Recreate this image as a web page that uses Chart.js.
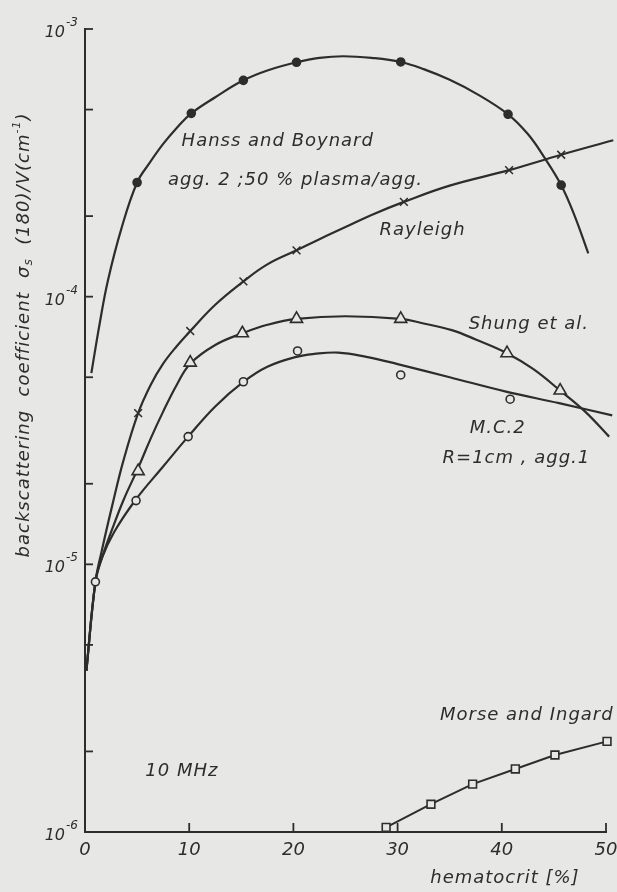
<!DOCTYPE html>
<html>
<head>
<meta charset="utf-8">
<script src="https://cdn.jsdelivr.net/npm/chart.js@4.4.1/dist/chart.umd.min.js"></script>
<style>
  html, body { margin: 0; padding: 0; background: #e7e7e5; }
  #wrap { width: 617px; height: 892px; }
</style>
</head>
<body>
<div id="wrap"><canvas id="chart" width="617" height="892"></canvas></div>
<script>
const INK   = '#2d2d2d';
const PAPER = '#e7e7e5';
const FONT  = '"DejaVu Sans", sans-serif';

// hematocrit [%] vs backscattering coefficient [cm^-1]
// measured points
const hanssX    = [5.0, 10.2, 15.2, 20.3, 30.3, 40.6, 45.7];
const hanssY    = [2.67e-4, 4.84e-4, 6.43e-4, 7.51e-4, 7.53e-4, 4.80e-4, 2.61e-4];
const rayX      = [5.1, 10.1, 15.2, 20.3, 30.6, 40.7, 45.7];
const rayY      = [3.67e-5, 7.44e-5, 1.14e-4, 1.49e-4, 2.26e-4, 2.97e-4, 3.39e-4];
const shungX    = [5.1, 10.1, 15.1, 20.3, 30.3, 40.5, 45.6];
const shungY    = [2.23e-5, 5.67e-5, 7.30e-5, 8.26e-5, 8.26e-5, 6.15e-5, 4.46e-5];
const mcX       = [1.0, 4.9, 9.9, 15.2, 20.4, 30.3, 40.8, 50.6];
const mcY       = [8.6e-6, 1.73e-5, 3.0e-5, 4.81e-5, 6.27e-5, 5.10e-5, 4.14e-5, 4.27e-5];
const morseX    = [28.9, 33.2, 37.2, 41.3, 45.1, 50.1];
const morseY    = [1.04e-6, 1.27e-6, 1.51e-6, 1.72e-6, 1.94e-6, 2.18e-6];

// drawn (fitted) curves
const hanssCurveX = [0.61, 1.41, 2.2, 3.5, 5.0, 6.2, 7.5, 8.8, 10.2, 12.5, 15.2, 17.5, 20.3, 22.5, 24.8,
                     27.5, 30.3, 32.5, 35.0, 37.5, 40.6, 42.5, 44.0, 45.7, 47.0, 48.3];
const hanssCurveY = [5.18e-5, 7.94e-5, 1.15e-4, 1.80e-4, 2.67e-4, 3.16e-4, 3.72e-4, 4.27e-4, 4.84e-4, 5.56e-4,
                     6.43e-4, 7.0e-4, 7.51e-4, 7.8e-4, 7.91e-4, 7.8e-4, 7.53e-4, 7.08e-4, 6.46e-4, 5.75e-4,
                     4.80e-4, 4.05e-4, 3.35e-4, 2.61e-4, 2.0e-4, 1.45e-4];
const rayCurveX   = [0.13, 1.0, 1.6, 2.6, 3.7, 5.1, 6.3, 7.5, 8.8, 10.1, 12.5, 15.2, 17.5, 20.3, 22.5, 25.0,
                     27.5, 30.6, 35.0, 40.7, 45.7, 50.7];
const rayCurveY   = [4.0e-6, 8.6e-6, 1.12e-5, 1.65e-5, 2.45e-5, 3.67e-5, 4.68e-5, 5.62e-5, 6.53e-5, 7.44e-5,
                     9.33e-5, 1.14e-4, 1.32e-4, 1.49e-4, 1.64e-4, 1.82e-4, 2.02e-4, 2.26e-4, 2.6e-4, 2.97e-4,
                     3.39e-4, 3.84e-4];
const shungCurveX = [0.13, 1.0, 1.6, 2.6, 3.7, 5.1, 6.3, 7.5, 8.8, 10.1, 12.5, 15.1, 17.5, 20.3, 25.0, 30.3,
                     32.5, 35.2, 37.5, 40.5, 43.0, 45.6, 48.0, 50.3];
const shungCurveY = [4.0e-6, 8.6e-6, 1.05e-5, 1.35e-5, 1.74e-5, 2.29e-5, 2.95e-5, 3.72e-5, 4.68e-5, 5.62e-5,
                     6.6e-5, 7.3e-5, 7.85e-5, 8.26e-5, 8.45e-5, 8.26e-5, 7.94e-5, 7.5e-5, 6.92e-5, 6.15e-5,
                     5.37e-5, 4.46e-5, 3.72e-5, 3.0e-5];
const mcCurveX    = [0.13, 1.0, 1.6, 2.8, 4.9, 7.5, 9.9, 12.5, 15.2, 17.5, 20.3, 22.0, 24.3, 27.0, 30.0,
                     35.0, 40.4, 45.5, 50.6];
const mcCurveY    = [4.0e-6, 8.6e-6, 1.05e-5, 1.32e-5, 1.75e-5, 2.32e-5, 3.0e-5, 3.89e-5, 4.8e-5, 5.47e-5,
                     5.96e-5, 6.11e-5, 6.18e-5, 5.96e-5, 5.6e-5, 5.0e-5, 4.42e-5, 4.0e-5, 3.6e-5];

// axes
const xTicks = [0, 10, 20, 30, 40, 50];
const yTicks = [1e-6, 2e-6, 5e-6, 1e-5, 2e-5, 5e-5, 1e-4, 2e-4, 5e-4, 1e-3];

// curve labels, placed at data coordinates
const noteText = ['Hanss and Boynard', 'agg. 2 ;50 % plasma/agg.', 'Rayleigh', 'Shung et al.',
                  'M.C.2', 'R=1cm , agg.1', 'Morse and Ingard', '10 MHz'];
const noteX    = [18.5, 20.2, 32.4, 42.6, 39.6, 41.4, 42.4, 9.3];
const noteY    = [3.79e-4, 2.73e-4, 1.77e-4, 7.9e-5, 3.21e-5, 2.49e-5, 2.74e-6, 1.69e-6];

const xAxisTitle = 'hematocrit [%]';

const pts = (xs, ys) => xs.map((x, i) => ({ x, y: ys[i] }));

const markerBase = { showLine: false, borderColor: INK, borderWidth: 1.6, clip: false };
const curveBase  = {
  showLine: true, pointRadius: 0, borderColor: INK, borderWidth: 2.2,
  tension: 0.4, clip: false
};

const axisDecor = {
  id: 'axisDecor',
  afterDraw(chart) {
    const { ctx, chartArea: a, scales: { x, y } } = chart;
    ctx.save();
    ctx.strokeStyle = INK;
    ctx.fillStyle = INK;
    ctx.lineWidth = 1.8;

    // inward tick marks
    yTicks.forEach(v => {
      if (v === 1e-6) return;
      const py = y.getPixelForValue(v);
      ctx.beginPath(); ctx.moveTo(a.left, py); ctx.lineTo(a.left + 8, py); ctx.stroke();
    });
    xTicks.forEach(v => {
      if (v === 0) return;
      const px = x.getPixelForValue(v);
      ctx.beginPath(); ctx.moveTo(px, a.bottom); ctx.lineTo(px, a.bottom - 9); ctx.stroke();
    });

    // decade labels 10^n
    yTicks.forEach(v => {
      const e = Math.log10(v);
      if (Math.abs(e - Math.round(e)) > 1e-9) return;
      const py = y.getPixelForValue(v);
      const sup = '-' + Math.abs(Math.round(e));
      ctx.textAlign = 'right';
      ctx.textBaseline = 'alphabetic';
      ctx.font = 'italic 12px ' + FONT;
      const supW = ctx.measureText(sup).width;
      const right = a.left - 7;
      ctx.fillText(sup, right, py - 3);
      ctx.font = 'italic 16px ' + FONT;
      ctx.fillText('10', right - supW - 1, py + 8);
    });

    // curve labels
    ctx.font = 'italic 18px ' + FONT;
    ctx.letterSpacing = '1px';
    ctx.textAlign = 'center';
    ctx.textBaseline = 'middle';
    noteText.forEach((t, i) => {
      ctx.fillText(t, x.getPixelForValue(noteX[i]), y.getPixelForValue(noteY[i]));
    });

    // x axis title
    ctx.fillText(xAxisTitle, x.getPixelForValue(40.3), a.bottom + 46);

    // y axis title, rotated, with sub/superscripts
    const parts = [
      ['backscattering  coefficient  σ', 0, 18],
      ['s', 5, 12],
      ['  (180)/V(cm', 0, 18],
      ['-1', -7, 11],
      [')', 0, 18]
    ];
    let total = 0;
    parts.forEach(p => { ctx.font = 'italic ' + p[2] + 'px ' + FONT; p.w = ctx.measureText(p[0]).width; total += p.w; });
    ctx.translate(24, 335);
    ctx.rotate(-Math.PI / 2);
    ctx.textAlign = 'left';
    ctx.textBaseline = 'middle';
    let cx = -total / 2;
    parts.forEach(p => {
      ctx.font = 'italic ' + p[2] + 'px ' + FONT;
      ctx.fillText(p[0], cx, p[1]);
      cx += p.w;
    });
    ctx.restore();
  }
};

new Chart(document.getElementById('chart'), {
  type: 'scatter',
  data: {
    datasets: [
      { ...markerBase, data: pts(hanssX, hanssY), pointStyle: 'circle', pointRadius: 4, backgroundColor: INK },
      { ...markerBase, data: pts(rayX, rayY), pointStyle: 'crossRot', pointRadius: 5.5, borderWidth: 1.5 },
      { ...markerBase, data: pts(shungX, shungY), pointStyle: 'triangle', pointRadius: 7, backgroundColor: PAPER },
      { ...markerBase, data: pts(mcX, mcY), pointStyle: 'circle', pointRadius: 4, backgroundColor: PAPER },
      { ...markerBase, data: pts(morseX, morseY), showLine: true, tension: 0, borderWidth: 2,
        pointStyle: 'rect', pointRadius: 5.5, pointBorderWidth: 1.6, backgroundColor: PAPER },
      { ...curveBase, data: pts(hanssCurveX, hanssCurveY) },
      { ...curveBase, data: pts(rayCurveX, rayCurveY) },
      { ...curveBase, data: pts(shungCurveX, shungCurveY) },
      { ...curveBase, data: pts(mcCurveX, mcCurveY) }
    ]
  },
  options: {
    responsive: false,
    animation: false,
    layout: { padding: { top: 29, right: 11, left: 0, bottom: 0 } },
    plugins: { legend: { display: false }, tooltip: { enabled: false } },
    scales: {
      x: {
        type: 'linear', min: 0, max: 50,
        grid: { display: false },
        border: { display: true, color: INK, width: 2 },
        afterBuildTicks: s => { s.ticks = xTicks.map(v => ({ value: v })); },
        afterFit: s => { s.height = 60; s.paddingRight = 0; s.paddingLeft = 0; },
        ticks: { color: INK, padding: 0, font: { family: FONT, size: 18, style: 'italic' } }
      },
      y: {
        type: 'logarithmic', min: 1e-6, max: 1e-3,
        grid: { display: false },
        border: { display: true, color: INK, width: 2 },
        afterBuildTicks: s => { s.ticks = yTicks.map(v => ({ value: v })); },
        afterFit: s => { s.width = 85; },
        ticks: { display: false }
      }
    }
  },
  plugins: [axisDecor]
});
</script>
</body>
</html>
